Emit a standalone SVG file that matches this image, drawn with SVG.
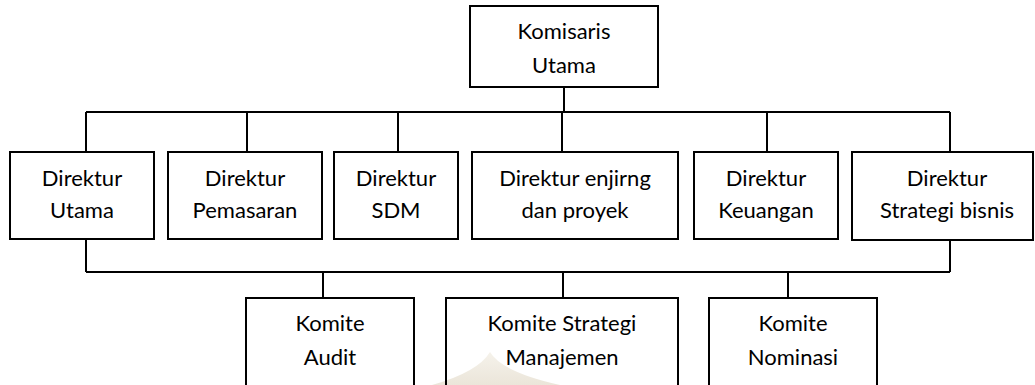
<svg xmlns="http://www.w3.org/2000/svg" width="1035" height="385" viewBox="0 0 1035 385">
<defs>
<style>
.box{fill:none;stroke:#000;stroke-width:2}
.ln{fill:none;stroke:#000;stroke-width:2}
text{font-family:Lato,"Open Sans","Liberation Sans",sans-serif;font-size:22px;fill:#000;text-anchor:middle}
</style>
<linearGradient id="wm" x1="0" y1="0" x2="0" y2="1">
<stop offset="0" stop-color="#f3efe6"/>
<stop offset="1" stop-color="#e6dfd0"/>
</linearGradient>
</defs>
<rect width="1035" height="385" fill="#fff"/>
<path d="M432 385 Q478 372 490 352 Q502 372 560 385 Z" fill="url(#wm)" opacity="0.8"/>
<g id="connectors">
<path class="ln" d="M564 87V112M86 112H950M86 112V152M247 112V152M398 112V152M562 112V152M767 112V152M950 112V152"/>
<path class="ln" d="M86 239V272M950 240V272M86 272H950M323 272V298M563 272V298M788 272V298"/>
</g>
<g id="komisaris-utama"><rect class="box" x="470" y="6" width="188" height="81"/><text x="564" y="39">Komisaris</text><text x="564" y="73">Utama</text></g>
<g id="direktur-utama"><rect class="box" x="10" y="152" width="144" height="87"/><text x="82" y="186">Direktur</text><text x="82" y="218">Utama</text></g>
<g id="direktur-pemasaran"><rect class="box" x="168" y="152" width="154" height="87"/><text x="245" y="186">Direktur</text><text x="245" y="218">Pemasaran</text></g>
<g id="direktur-sdm"><rect class="box" x="334" y="152" width="124" height="87"/><text x="396" y="186">Direktur</text><text x="396" y="218">SDM</text></g>
<g id="direktur-enjirng"><rect class="box" x="472" y="152" width="206" height="87"/><text x="575" y="186">Direktur enjirng</text><text x="575" y="218">dan proyek</text></g>
<g id="direktur-keuangan"><rect class="box" x="694" y="152" width="144" height="87"/><text x="766" y="186">Direktur</text><text x="766" y="218">Keuangan</text></g>
<g id="direktur-strategi"><rect class="box" x="852" y="152" width="181" height="88"/><text x="947" y="186">Direktur</text><text x="947" y="218">Strategi bisnis</text></g>
<g id="komite-audit"><rect class="box" x="246" y="298" width="168" height="100"/><text x="330" y="331">Komite</text><text x="330" y="365">Audit</text></g>
<g id="komite-strategi"><rect class="box" x="446" y="298" width="232" height="100"/><text x="562" y="331">Komite Strategi</text><text x="562" y="365">Manajemen</text></g>
<g id="komite-nominasi"><rect class="box" x="709" y="298" width="168" height="100"/><text x="793" y="331">Komite</text><text x="793" y="365">Nominasi</text></g>
</svg>
